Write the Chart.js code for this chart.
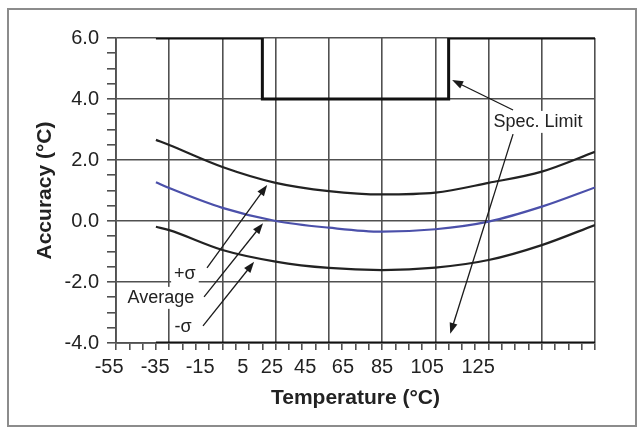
<!DOCTYPE html>
<html>
<head>
<meta charset="utf-8">
<script src="https://cdn.jsdelivr.net/npm/chart.js@4.4.1/dist/chart.umd.min.js"></script>
<style>
  html, body { margin: 0; padding: 0; background: #fff; }
  #wrap { position: relative; width: 640px; height: 429px; }
  #frame { position: absolute; left: 7px; top: 8px; width: 626px; height: 415px; border: 2px solid #8c8c8c; }
  canvas { position: absolute; left: 0; top: 0; }
</style>
</head>
<body>
<div id="wrap">
  <div id="frame"></div>
  <canvas id="myChart" width="640" height="429"></canvas>
</div>
<script>
  // curves (deg C, accuracy deg C)
  const temps = [-40, -35, -15, 5, 25, 45, 65, 85, 105, 125];
  const plusSigma = [2.66, 2.49, 1.77, 1.25, 0.98, 0.87, 0.93, 1.25, 1.62, 2.27];
  const average = [1.27, 1.08, 0.43, 0.0, -0.22, -0.35, -0.27, -0.02, 0.47, 1.10];
  const minusSigma = [-0.19, -0.30, -0.95, -1.33, -1.54, -1.61, -1.53, -1.28, -0.79, -0.13];

  // spec limit steps
  const specTemps = [-40, 0, 0, 70, 70, 125];
  const specUpper = [6, 6, 4, 4, 6, 6];
  const specLower = [-4, -4, -4, -4, -4, -4];

  // printed x labels, and where they sit on the temperature scale
  const xTickLabels = ['-55', '-35', '-15', '5', '25', '45', '65', '85', '105', '125'];
  const xLabelAt = [-57.6, -40.3, -23.4, -7.3, 3.6, 16.1, 30.3, 45.0, 61.9, 81.1];

  const pts = (xs, ys) => xs.map((t, i) => ({x: t, y: ys[i]}));

  const notes = [
    {text: 'Spec. Limit', x: 103.6, y: 3.25},
    {text: '+σ', x: -29.1, y: -1.74},
    {text: 'Average', x: -38.1, y: -2.52},
    {text: '-σ', x: -29.8, y: -3.48}
  ];
  const arrows = [
    [94.2, 3.64, 71.3, 4.62],
    [94.2, 2.85, 70.6, -3.70],
    [-20.8, -1.54, 1.8, 1.18],
    [-21.9, -2.49, 0.26, -0.07],
    [-22.3, -3.44, -3.1, -1.34]
  ];
  const noteFont = '18px "Liberation Sans", Arial, sans-serif';

  const notesPlugin = {
    id: 'notes',
    beforeDatasetsDraw(chart) {
      const {ctx, scales: {x, y}} = chart;
      ctx.save();
      ctx.font = noteFont;
      ctx.fillStyle = '#fff';
      notes.forEach(n => {
        const w = ctx.measureText(n.text).width;
        const px = x.getPixelForValue(n.x), py = y.getPixelForValue(n.y);
        ctx.fillRect(px - w / 2 - 3, py - 11, w + 6, 22);
      });
      ctx.restore();
    },
    afterDatasetsDraw(chart) {
      const {ctx, scales: {x, y}} = chart;
      ctx.save();
      ctx.strokeStyle = '#1a1a1a';
      ctx.fillStyle = '#1a1a1a';
      ctx.lineWidth = 1.3;
      arrows.forEach(a => {
        const x1 = x.getPixelForValue(a[0]), y1 = y.getPixelForValue(a[1]);
        const x2 = x.getPixelForValue(a[2]), y2 = y.getPixelForValue(a[3]);
        const ang = Math.atan2(y2 - y1, x2 - x1);
        const c = Math.cos(ang), s = Math.sin(ang);
        const L = 11, W = 4;
        ctx.beginPath();
        ctx.moveTo(x1, y1);
        ctx.lineTo(x2 - L * 0.8 * c, y2 - L * 0.8 * s);
        ctx.stroke();
        ctx.beginPath();
        ctx.moveTo(x2, y2);
        ctx.lineTo(x2 - L * c + W * s, y2 - L * s - W * c);
        ctx.lineTo(x2 - L * c - W * s, y2 - L * s + W * c);
        ctx.closePath();
        ctx.fill();
      });
      ctx.font = noteFont;
      ctx.fillStyle = '#222';
      ctx.textAlign = 'center';
      ctx.textBaseline = 'middle';
      notes.forEach(n => {
        ctx.fillText(n.text, x.getPixelForValue(n.x), y.getPixelForValue(n.y));
      });
      ctx.restore();
    }
  };

  Chart.defaults.font.family = '"Liberation Sans", Arial, sans-serif';
  Chart.defaults.color = '#222';

  const gridCol = '#505050';

  const data = {
    datasets: [
      {label: 'Spec. Limit', data: pts(specTemps, specUpper), borderColor: '#111', borderWidth: 3, tension: 0},
      {label: 'Spec. Limit (low)', data: pts(specTemps, specLower), borderColor: '#111', borderWidth: 3, tension: 0},
      {label: '+σ', data: pts(temps, plusSigma), borderColor: '#222', borderWidth: 2.2, cubicInterpolationMode: 'monotone'},
      {label: 'Average', data: pts(temps, average), borderColor: '#4b50aa', borderWidth: 2.2, cubicInterpolationMode: 'monotone'},
      {label: '-σ', data: pts(temps, minusSigma), borderColor: '#222', borderWidth: 2.2, cubicInterpolationMode: 'monotone'}
    ]
  };

  const config = {
    type: 'line',
    data: data,
    plugins: [notesPlugin],
    options: {
      responsive: false,
      animation: false,
      parsing: false,
      elements: {point: {radius: 0}},
      datasets: {line: {xAxisID: 'x', yAxisID: 'y', fill: false}},
      layout: {padding: {left: 30, top: 38, right: 45, bottom: 18}},
      plugins: {legend: {display: false}, tooltip: {enabled: false}},
      scales: {
        x: {
          type: 'linear',
          position: 'bottom',
          min: -55,
          max: 125,
          weight: 0,
          ticks: {stepSize: 5, display: false, autoSkip: false},
          grid: {
            color: c => ((c.tick.value + 55) % 20 === 0 ? gridCol : 'rgba(0,0,0,0)'),
            tickColor: gridCol,
            lineWidth: 1.6,
            tickLength: 7
          },
          border: {color: gridCol, width: 1.8},
          afterFit: s => { s.height = 8; }
        },
        xl: {
          type: 'linear',
          position: 'bottom',
          min: -55,
          max: 125,
          weight: 1,
          grid: {display: false},
          border: {display: false},
          afterBuildTicks: s => { s.ticks = xLabelAt.map(v => ({value: v})); },
          ticks: {
            autoSkip: false,
            maxRotation: 0,
            padding: -4,
            font: {size: 20},
            callback: (v, i) => xTickLabels[i]
          },
          title: {
            display: true,
            text: 'Temperature (°C)',
            font: {size: 21, weight: 'bold'},
            padding: {top: 0, bottom: 0}
          },
          afterFit: s => { s.height = 60; }
        },
        y: {
          type: 'linear',
          min: -4,
          max: 6,
          ticks: {
            stepSize: 0.5,
            autoSkip: false,
            padding: 8,
            font: {size: 20},
            callback: v => (Math.abs(v % 2) < 1e-9 ? v.toFixed(1) : '')
          },
          grid: {
            color: c => (Math.abs(c.tick.value % 2) < 1e-9 ? gridCol : 'rgba(0,0,0,0)'),
            tickColor: gridCol,
            lineWidth: 1.6,
            tickLength: 9
          },
          border: {color: gridCol, width: 1.8},
          title: {
            display: true,
            text: 'Accuracy (°C)',
            font: {size: 21, weight: 'bold'},
            padding: {top: 3, bottom: 0}
          },
          afterFit: s => { s.width = 86; }
        }
      }
    }
  };

  const myChart = new Chart(document.getElementById('myChart'), config);
</script>
</body>
</html>
